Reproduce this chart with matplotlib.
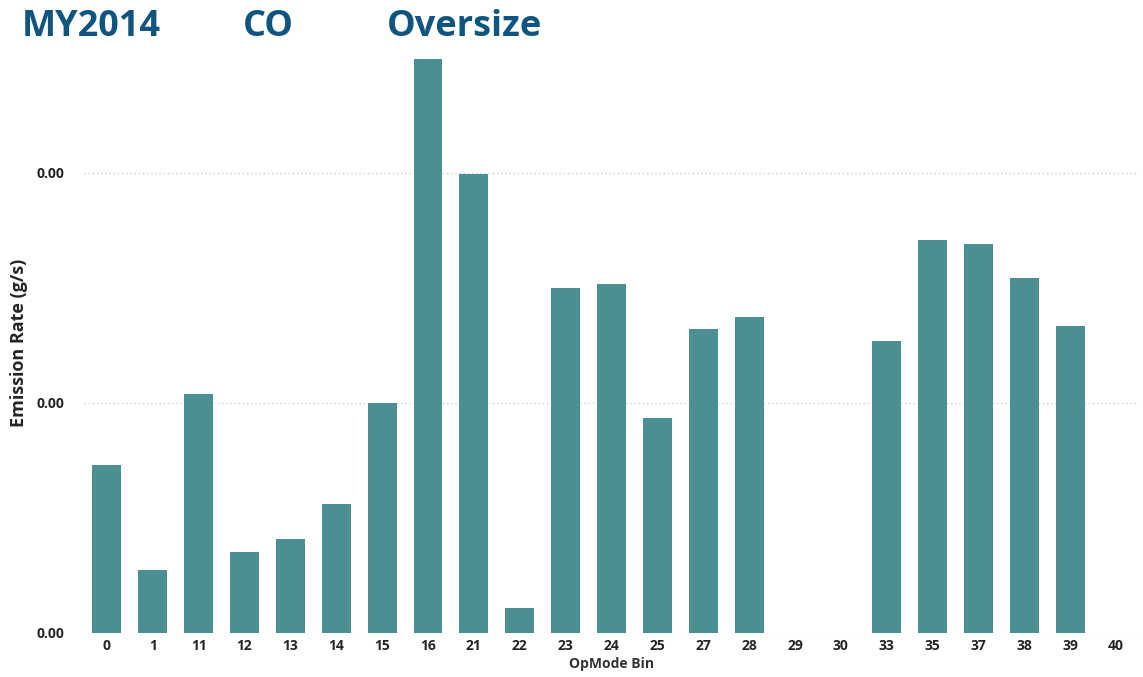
import matplotlib
matplotlib.use("Agg")
import matplotlib.pyplot as plt
from matplotlib.ticker import FormatStrFormatter

categories = ["0", "1", "11", "12", "13", "14", "15", "16", "21", "22", "23",
              "24", "25", "27", "28", "29", "30", "33", "35", "37", "38", "39", "40"]
values = [0.00146, 0.00055, 0.00208, 0.00070, 0.00082, 0.00112, 0.00200, 0.00499,
          0.00399, 0.00022, 0.00300, 0.00303, 0.00187, 0.00264, 0.00275, 0.0, 0.0,
          0.00254, 0.00342, 0.00338, 0.00309, 0.00267, 0.0]
yticks = [0.0, 0.002, 0.004]

plt.rcParams['font.family'] = ['Open Sans', 'DejaVu Sans']

fig = plt.figure(figsize=(11.43, 6.77), dpi=100)
ax = fig.add_axes([0.0735, 0.065, 0.923, 0.858])

x = list(range(len(categories)))
ax.bar(x, values, width=0.63, color="#4A9093", zorder=3)
ax.set_xlim(-0.5, len(categories) - 0.5)
ax.set_ylim(0, 0.00505)
ax.set_xticks(x)
ax.set_xticklabels(categories, fontsize=10, fontweight='bold', color="#252525")
ax.set_yticks(yticks)
ax.yaxis.set_major_formatter(FormatStrFormatter('%.2f'))
for lab in ax.get_yticklabels():
    lab.set_fontsize(10)
    lab.set_fontweight('bold')
    lab.set_color("#252525")
ax.tick_params(axis='both', length=0, pad=4)
ax.tick_params(axis='y', pad=14)
ax.grid(axis='y', linestyle=(0, (1, 2)), color="#D0D0D0", linewidth=1, zorder=0)
for s in ax.spines.values():
    s.set_visible(False)

ax.set_xlabel("OpMode Bin", fontsize=10, fontweight='bold', color="#333333", labelpad=3)
ax.set_ylabel("Emission Rate (g/s)", fontsize=13, fontweight='bold', color="#252525", labelpad=6)

title_color = "#0F5580"
ty = 1 - 27 / 677
fig.text(22 / 1143, ty, "MY2014", fontsize=26, fontweight='bold', color=title_color, va='center', ha='left')
fig.text(243 / 1143, ty, "CO", fontsize=26, fontweight='bold', color=title_color, va='center', ha='left')
fig.text(387 / 1143, ty, "Oversize", fontsize=26, fontweight='bold', color=title_color, va='center', ha='left')

fig.savefig("out.png", dpi=100)
